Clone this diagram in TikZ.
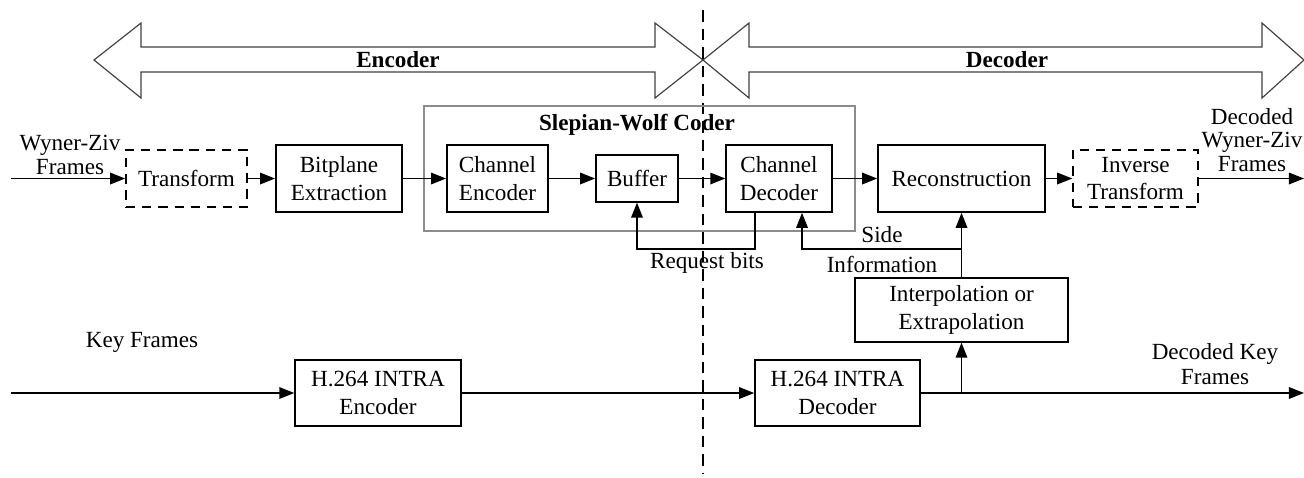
\documentclass[tikz,border=0pt]{standalone}
\usepackage{fontspec}
\setmainfont{Liberation Serif}
\usepackage{tikz}
\usetikzlibrary{arrows.meta,positioning,calc}

\begin{document}
\begin{tikzpicture}[
    x=0.0152cm, y=-0.0152cm,
    >={Triangle[length=6.5pt,width=5pt]},
    block/.style={draw, line width=0.65pt, align=center, inner sep=1pt, minimum height=1.02cm},
    dblock/.style={block, dash pattern=on 4pt off 3pt, minimum height=0.87cm},
    flow/.style={->, line width=0.65pt},
    bigarrow/.style={draw=black!75, line width=0.5pt},
    label/.style={align=center, inner sep=0pt}
]
\useasboundingbox (0,0) rectangle (1304,477);

% Encoder / decoder split
\draw[line width=0.6pt, dash pattern=on 5pt off 3pt] (703,10) coordinate (splittop) -- (703,474) coordinate (splitbot);

% Big double arrows
\draw[bigarrow] (94,60) -- (141,23) -- (141,47) -- (655,47) -- (655,23) -- (703,60)
    -- (655,98) -- (655,72) -- (141,72) -- (141,98) -- cycle;
\node[label, font=\bfseries] (enclabel) at (398,60) {Encoder};
\draw[bigarrow] (703,60) -- (749,23) -- (749,47) -- (1262,47) -- (1262,23) -- (1304,60)
    -- (1262,98) -- (1262,72) -- (749,72) -- (749,98) -- cycle;
\node[label, font=\bfseries] (declabel) at (1007,60) {Decoder};

% Slepian-Wolf coder
\node[draw=black!45, line width=0.5pt, minimum width=6.55cm, minimum height=1.90cm] (swbox) at (639.5,168.5) {};
\node[label, font=\bfseries] (swlabel) at (637,125) {Slepian-Wolf Coder};

% Wyner-Ziv path
\node[dblock, minimum width=1.84cm] (transform) at (186.5,178.5) {Transform};
\node[block, minimum width=1.92cm] (bitplane) at (339,178.5) {Bitplane\\Extraction};
\node[block, minimum width=1.54cm] (chenc) at (497.5,178.5) {Channel\\Encoder};
\node[block, minimum width=1.25cm, minimum height=0.71cm] (buffer) at (637,178.5) {Buffer};
\node[block, minimum width=1.61cm] (chdec) at (779,178.5) {Channel\\Decoder};
\node[block, minimum width=2.54cm] (recon) at (961.5,178.5) {Reconstruction};
\node[dblock, minimum width=1.90cm] (invtransform) at (1135.5,178.5) {Inverse\\Transform};

% Key frame path
\node[block, minimum width=2.52cm, minimum height=1.00cm] (intraenc) at (378,393) {H.264 INTRA\\Encoder};
\node[block, minimum width=2.51cm, minimum height=1.00cm] (intradec) at (837.5,393) {H.264 INTRA\\Decoder};
\node[block, minimum width=3.24cm, minimum height=0.97cm] (interp) at (961.5,310) {Interpolation or\\Extrapolation};

% Labels
\node[label] (wzin) at (70,155) {Wyner-Ziv\\[-1.5pt]Frames};
\node[label] (wzout) at (1252,140) {Decoded\\[-2pt]Wyner-Ziv\\[-2pt]Frames};
\node[label] (keyin) at (142,342) {Key Frames};
\node[label] (keyout) at (1215,364) {Decoded Key\\[-1.5pt]Frames};
\node[label] (reqlabel) at (707,263) {Request bits};
\node[label] (sidelabel) at (882,250) {Side\\[1pt]Information};

% Coordinates for free ends and bends
\coordinate (wzstart) at (11,178.5);
\coordinate (wzend) at (1304,178.5);
\coordinate (keystart) at (11,393);
\coordinate (keyend) at (1304,393);
\coordinate (keybranch) at (961.5,393);
\coordinate (reqturn) at (755,249);
\coordinate (sideturn) at (961.5,249);
\coordinate (sidein) at (802,249);

% Connectors
\draw[flow] (wzstart) -- (transform);
\draw[flow] (transform) -- (bitplane);
\draw[flow] (bitplane) -- (chenc);
\draw[flow] (chenc) -- (buffer);
\draw[flow] (buffer) -- (chdec);
\draw[flow] (chdec) -- (recon);
\draw[flow] (recon) -- (invtransform);
\draw[flow] (invtransform) -- (wzend);

\draw[flow] (chdec.south -| reqturn) -- (reqturn) -| (buffer.south);
\draw[flow] (sideturn) -- (sidein) -- (chdec.south -| sidein);
\draw[flow] (interp) -- (recon);

\draw[flow] (keystart) -- (intraenc);
\draw[flow] (intraenc) -- (intradec);
\draw[flow] (intradec) -- (keyend);
\draw[flow] (keybranch) -- (interp);

\end{tikzpicture}
\end{document}
